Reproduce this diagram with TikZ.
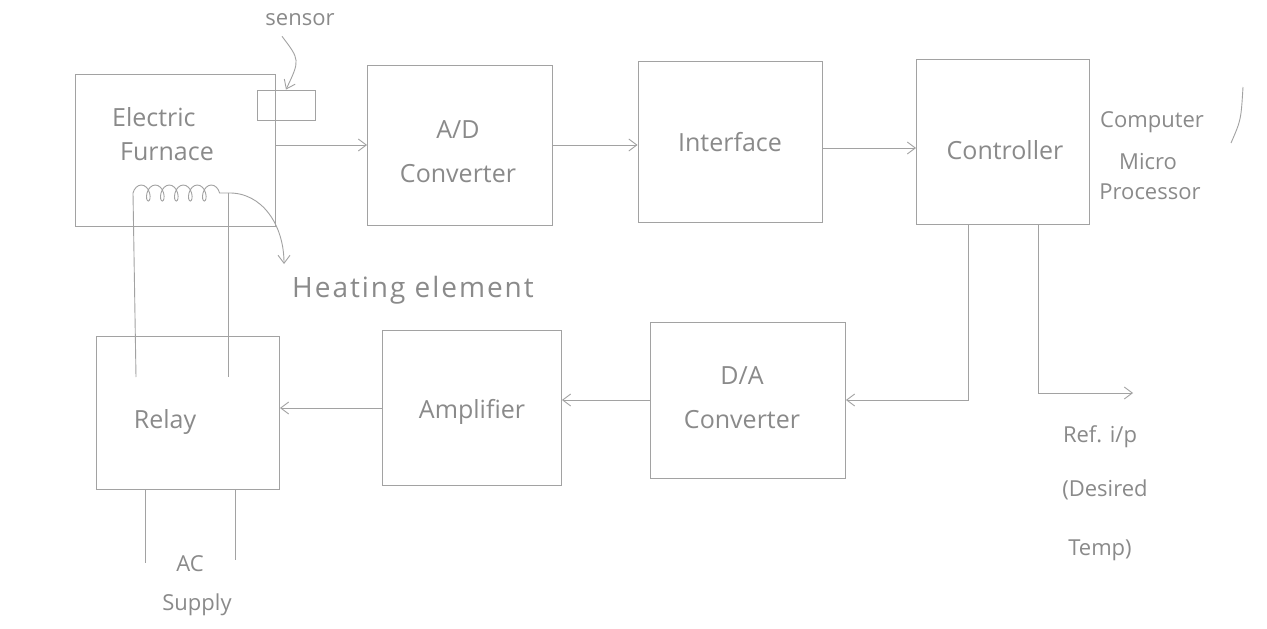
\documentclass[tikz,border=0pt]{standalone}
\usepackage{fontspec}
\setmainfont{Open Sans}
\usetikzlibrary{arrows.meta,decorations.pathmorphing}
\definecolor{pencil}{HTML}{A2A2A2}
\definecolor{pencilt}{HTML}{8A8A8A}
\begin{document}
\begin{tikzpicture}[x=1pt,y=-1pt,
  box/.style={draw=pencil, line width=0.9pt, rectangle, inner sep=0pt},
  txt/.style={text=pencilt, font=\fontsize{25}{30}\selectfont, inner sep=0pt, align=center},
  stxt/.style={text=pencilt, font=\fontsize{22}{26}\selectfont, inner sep=0pt, align=center},
  wire/.style={draw=pencil, line width=0.9pt},
  arr/.style={wire, -{Straight Barb[length=8pt,width=12pt]}}]
\useasboundingbox (0,0) rectangle (1267,629);
\fill[white] (0,0) rectangle (1267,629);

% top row
\node[box, minimum width=200, minimum height=152] (furnace) at (175,150) {};
\node[txt, align=left] (furnacetxt) at (163,134) {Electric\\[4pt]\hspace*{8pt}Furnace};
\node[box, minimum width=58, minimum height=30] (sensor) at (286,105) {};
\node[stxt] (sensorlbl) at (300,20) {sensor};
\node[box, minimum width=185, minimum height=160] (ad) at (460,145) {};
\node[txt] (adtxt) at (458,152) {A/D\\[14pt]Converter};
\node[box, minimum width=184, minimum height=161] (iface) at (730,142) {};
\node[txt] (ifacetxt) at (iface) {Interface};
\node[box, minimum width=173, minimum height=165] (ctrl) at (1003,142) {};
\node[txt] (ctrltxt) at (1005,150) {Controller};
\node[stxt] (comp) at (1152,122) {Computer};
\node[stxt] (micro) at (1148,162) {Micro};
\node[stxt] (proc) at (1150,192) {Processor};
\coordinate (slashA) at (1243,87);
\coordinate (slashB) at (1231,143);
\draw[wire] (slashA) .. controls (1241,120) .. (slashB);

% bottom row
\node[box, minimum width=183, minimum height=153] (relay) at (188,413) {};
\node[txt] (relaytxt) at (165,422) {Relay};
\node[box, minimum width=179, minimum height=155] (amp) at (472,408) {};
\node[txt] (amptxt) at (472,412) {Amplifier};
\node[box, minimum width=195, minimum height=156] (da) at (748,400) {};
\node[txt] (datxt) at (742,398) {D/A\\[14pt]Converter};

% forward path
\draw[arr] (furnace.east |- ad.west) -- (ad.west);
\draw[arr] (ad.east) -- (ad.east -| iface.west);
\draw[arr] ([yshift=-6pt]iface.east) -- ([yshift=-6pt]iface.east -| ctrl.west);
\draw[arr] ([xshift=-18pt,yshift=-10pt]sensorlbl.south) .. controls (300,60) .. (sensor.north);

% controller outputs
\coordinate (cL) at (968,224);
\coordinate (cR) at (1038,224);
\coordinate (refend) at (1133,393);
\draw[arr] (cL) |- (da.east);
\draw[arr] (cR) |- (refend);
\node[stxt] (ref) at (1100,437) {Ref. i/p};
\node[stxt] (desired) at (1105,490) {(Desired};
\node[stxt] (temp) at (1100,550) {Temp)};

% feedback path
\draw[arr] (da.west) -- (da.west -| amp.east);
\draw[arr] (amp.west) -- (amp.west -| relay.east);

% heating coil and wires
\coordinate (coilL) at (133,193);
\coordinate (coilR) at (228,193);
\draw[wire, decorate, decoration={coil, amplitude=8pt, segment length=14pt, aspect=0.6}] (coilL) -- (coilR);
\coordinate (wL) at (136,377);
\coordinate (wR) at (228,377);
\draw[wire] (coilL) -- (wL);
\draw[wire] (coilR) -- (wR);
\coordinate (heatend) at (284,264);
\draw[arr] (coilR) .. controls (262,192) and (284,225) .. (heatend);
\node[txt, font=\fontsize{28}{32}\selectfont\addfontfeature{LetterSpace=7}] (heat) at (413,290) {Heating element};

% AC supply
\coordinate (acL) at (145,563);
\coordinate (acR) at (235,560);
\draw[wire] (relay.south -| acL) -- (acL);
\draw[wire] (relay.south -| acR) -- (acR);
\node[stxt] (ac) at (190,564) {AC};
\node[stxt] (supply) at (197,605) {Supply};
\end{tikzpicture}
\end{document}
